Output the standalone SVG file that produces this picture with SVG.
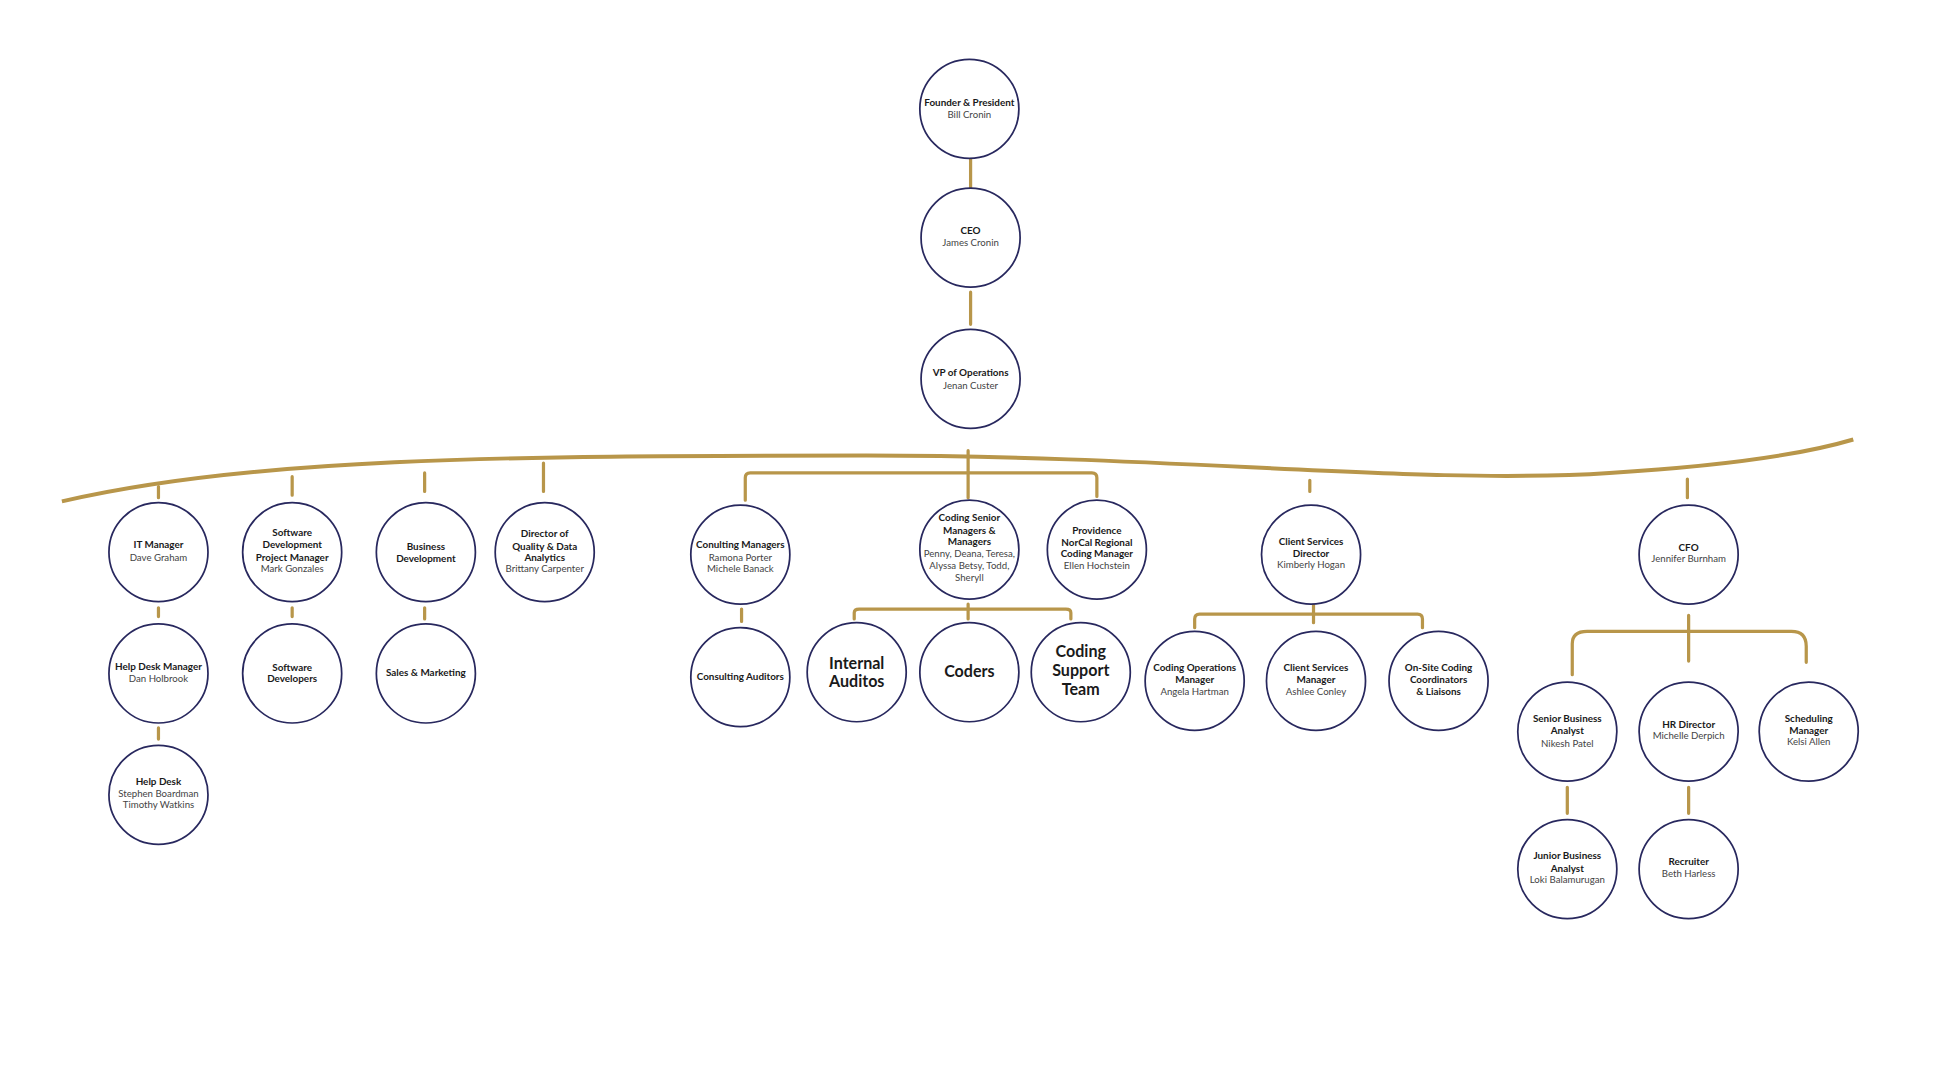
<svg xmlns="http://www.w3.org/2000/svg" width="1940" height="1080" viewBox="0 0 1940 1080">
<style>
.n{fill:#fff;stroke:#28285e;stroke-width:1.4}
.c{fill:none;stroke:#b8964a;stroke-width:2.6;stroke-linecap:round;stroke-linejoin:round}
text{font-family:Lato,"Open Sans",sans-serif;text-anchor:middle;fill:#1a1a1a}
.t{font-weight:bold;font-size:8px}
.s{font-size:7.8px;fill:#444}
.b{font-weight:bold;font-size:13px}
</style>
<rect width="1940" height="1080" fill="#fff"/>
<g transform="scale(1.238)">
<g id="connectors">
<path d="M50,405 C200,370 400,368 700,368 C950,368 1150,392 1300,382 C1400,376 1460,366 1497,355" fill="none" stroke="#b8964a" stroke-width="3.2"/>
<path class="c" d="M784,128V152M784,236V262M782,364V402M128,393V402M236,385V400M343,382V397M439,374V397M1058,388V397M1363,387V402"/>
<path class="c" d="M602,404V386Q602,382 606,382H882Q886,382 886,386V401"/>
<path class="c" d="M128,491V498M236,491V498M343,491V500M599,492V502M128,588V597"/>
<path class="c" d="M690,500V495Q690,492 694,492H861Q865,492 865,495V500M782,488V500"/>
<path class="c" d="M965,507V500Q965,496 969,496H1145Q1149,496 1149,500V507M1061,488V503"/>
<path class="c" d="M1270,545V520Q1270,510 1282,510H1447Q1459,510 1459,522V535M1364,497V534"/>
<path class="c" d="M1266,636V657M1364,636V657"/>
</g>
<g id="founder"><circle class="n" cx="783" cy="88" r="40"/><text class="t" x="783" y="86">Founder &amp; President</text><text class="s" x="783" y="95">Bill Cronin</text></g>
<g id="ceo"><circle class="n" cx="784" cy="192" r="40"/><text class="t" x="784" y="189">CEO</text><text class="s" x="784" y="199">James Cronin</text></g>
<g id="vp"><circle class="n" cx="784" cy="306" r="40"/><text class="t" x="784" y="304">VP of Operations</text><text class="s" x="784" y="314">Jenan Custer</text></g>
<g id="it"><circle class="n" cx="128" cy="446" r="40"/><text class="t" x="128" y="443">IT Manager</text><text class="s" x="128" y="453">Dave Graham</text></g>
<g id="swpm"><circle class="n" cx="236" cy="446" r="40"/><text class="t" x="236" y="433">Software</text><text class="t" x="236" y="443">Development</text><text class="t" x="236" y="453">Project Manager</text><text class="s" x="236" y="462">Mark Gonzales</text></g>
<g id="bizdev"><circle class="n" cx="344" cy="446" r="40"/><text class="t" x="344" y="444">Business</text><text class="t" x="344" y="454">Development</text></g>
<g id="quality"><circle class="n" cx="440" cy="446" r="40"/><text class="t" x="440" y="434">Director of</text><text class="t" x="440" y="444">Quality &amp; Data</text><text class="t" x="440" y="453">Analytics</text><text class="s" x="440" y="462">Brittany Carpenter</text></g>
<g id="consult"><circle class="n" cx="598" cy="448" r="40"/><text class="t" x="598" y="443">Conulting Managers</text><text class="s" x="598" y="453">Ramona Porter</text><text class="s" x="598" y="462">Michele Banack</text></g>
<g id="codingsr"><circle class="n" cx="783" cy="444" r="40"/><text class="t" x="783" y="421">Coding Senior</text><text class="t" x="783" y="431">Managers &amp;</text><text class="t" x="783" y="440">Managers</text><text class="s" x="783" y="450">Penny, Deana, Teresa,</text><text class="s" x="783" y="460">Alyssa Betsy, Todd,</text><text class="s" x="783" y="469">Sheryll</text></g>
<g id="providence"><circle class="n" cx="886" cy="444" r="40"/><text class="t" x="886" y="431">Providence</text><text class="t" x="886" y="441">NorCal Regional</text><text class="t" x="886" y="450">Coding Manager</text><text class="s" x="886" y="460">Ellen Hochstein</text></g>
<g id="csdir"><circle class="n" cx="1059" cy="448" r="40"/><text class="t" x="1059" y="440">Client Services</text><text class="t" x="1059" y="450">Director</text><text class="s" x="1059" y="459">Kimberly Hogan</text></g>
<g id="cfo"><circle class="n" cx="1364" cy="448" r="40"/><text class="t" x="1364" y="445">CFO</text><text class="s" x="1364" y="454">Jennifer Burnham</text></g>
<g id="helpdeskmgr"><circle class="n" cx="128" cy="544" r="40"/><text class="t" x="128" y="541">Help Desk Manager</text><text class="s" x="128" y="551">Dan Holbrook</text></g>
<g id="swdev"><circle class="n" cx="236" cy="544" r="40"/><text class="t" x="236" y="542">Software</text><text class="t" x="236" y="551">Developers</text></g>
<g id="sales"><circle class="n" cx="344" cy="544" r="40"/><text class="t" x="344" y="546">Sales &amp; Marketing</text></g>
<g id="auditors"><circle class="n" cx="598" cy="547" r="40"/><text class="t" x="598" y="549">Consulting Auditors</text></g>
<g id="internal"><circle class="n" cx="692" cy="543" r="40"/><text class="b" x="692" y="540">Internal</text><text class="b" x="692" y="555">Auditos</text></g>
<g id="coders"><circle class="n" cx="783" cy="543" r="40"/><text class="b" x="783" y="547">Coders</text></g>
<g id="support"><circle class="n" cx="873" cy="543" r="40"/><text class="b" x="873" y="531">Coding</text><text class="b" x="873" y="546">Support</text><text class="b" x="873" y="561">Team</text></g>
<g id="codingops"><circle class="n" cx="965" cy="550" r="40"/><text class="t" x="965" y="542">Coding Operations</text><text class="t" x="965" y="552">Manager</text><text class="s" x="965" y="561">Angela Hartman</text></g>
<g id="csmgr"><circle class="n" cx="1063" cy="550" r="40"/><text class="t" x="1063" y="542">Client Services</text><text class="t" x="1063" y="552">Manager</text><text class="s" x="1063" y="561">Ashlee Conley</text></g>
<g id="onsite"><circle class="n" cx="1162" cy="550" r="40"/><text class="t" x="1162" y="542">On-Site Coding</text><text class="t" x="1162" y="552">Coordinators</text><text class="t" x="1162" y="561">&amp; Liaisons</text></g>
<g id="helpdesk"><circle class="n" cx="128" cy="642" r="40"/><text class="t" x="128" y="634">Help Desk</text><text class="s" x="128" y="644">Stephen Boardman</text><text class="s" x="128" y="653">Timothy Watkins</text></g>
<g id="seniorba"><circle class="n" cx="1266" cy="591" r="40"/><text class="t" x="1266" y="583">Senior Business</text><text class="t" x="1266" y="593">Analyst</text><text class="s" x="1266" y="603">Nikesh Patel</text></g>
<g id="hr"><circle class="n" cx="1364" cy="591" r="40"/><text class="t" x="1364" y="588">HR Director</text><text class="s" x="1364" y="597">Michelle Derpich</text></g>
<g id="sched"><circle class="n" cx="1461" cy="591" r="40"/><text class="t" x="1461" y="583">Scheduling</text><text class="t" x="1461" y="593">Manager</text><text class="s" x="1461" y="602">Kelsi Allen</text></g>
<g id="juniorba"><circle class="n" cx="1266" cy="702" r="40"/><text class="t" x="1266" y="694">Junior Business</text><text class="t" x="1266" y="704">Analyst</text><text class="s" x="1266" y="713">Loki Balamurugan</text></g>
<g id="recruiter"><circle class="n" cx="1364" cy="702" r="40"/><text class="t" x="1364" y="699">Recruiter</text><text class="s" x="1364" y="708">Beth Harless</text></g>
</g>
</svg>
